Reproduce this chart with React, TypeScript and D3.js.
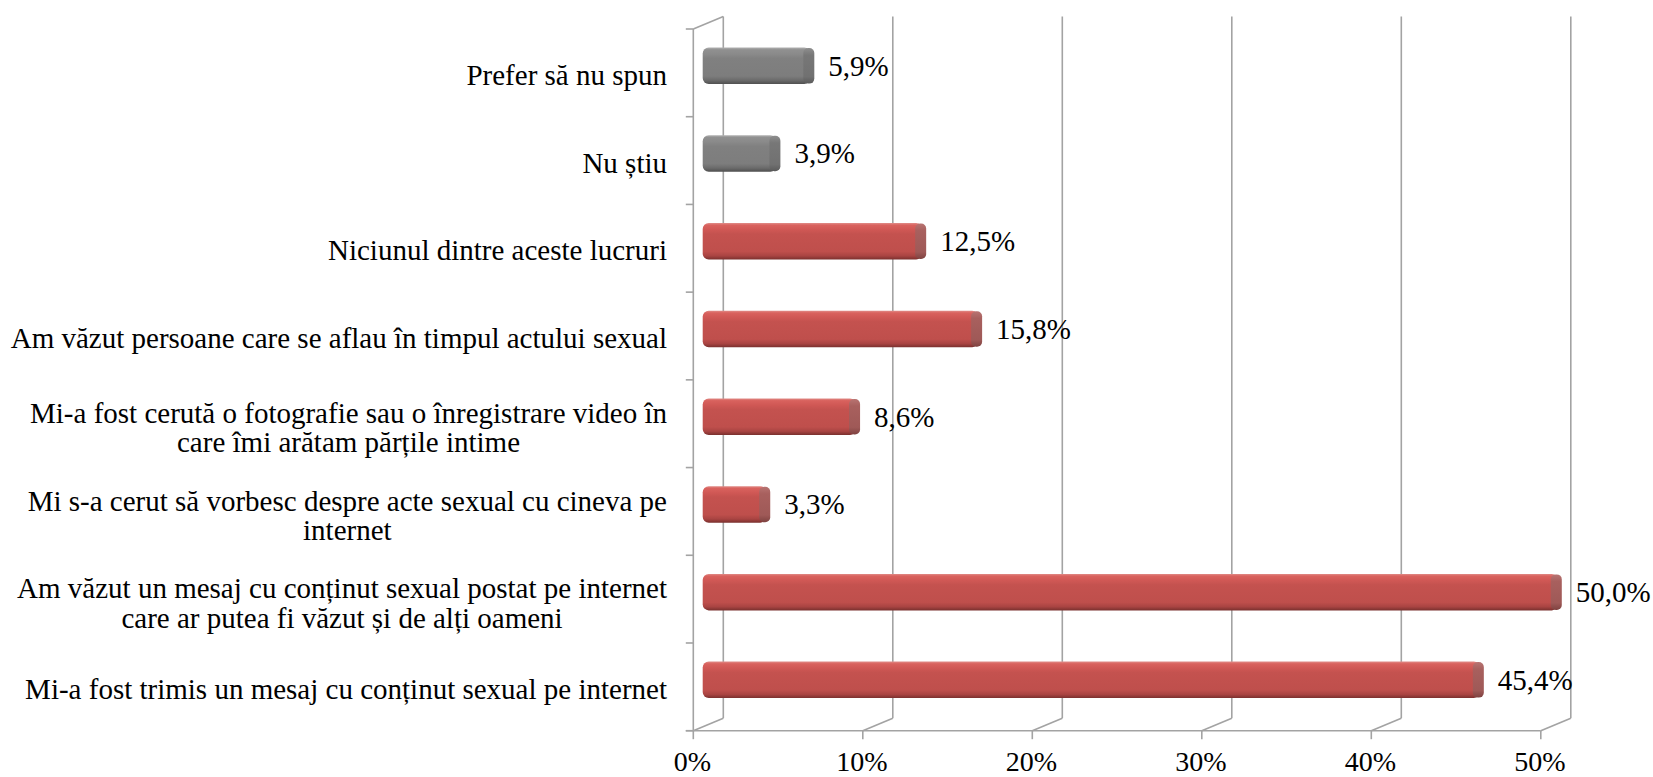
import React, { useEffect, useRef } from "react";
import * as d3 from "d3";

const categories: string[][] = [
  ["Prefer să nu spun"],
  ["Nu știu"],
  ["Niciunul dintre aceste lucruri"],
  ["Am văzut persoane care se aflau în timpul actului sexual"],
  ["Mi-a fost cerută o fotografie sau o înregistrare video în", "care îmi arătam părțile intime"],
  ["Mi s-a cerut să vorbesc despre acte sexual cu cineva pe", "internet"],
  ["Am văzut un mesaj cu conținut sexual postat pe internet", "care ar putea fi văzut și de alți oameni"],
  ["Mi-a fost trimis un mesaj cu conținut sexual pe internet"],
];
const values: number[] = [5.9, 3.9, 12.5, 15.8, 8.6, 3.3, 50.0, 45.4];
const barKind: string[] = ["gray", "gray", "red", "red", "red", "red", "red", "red"];
const xTicks: number[] = [0, 10, 20, 30, 40, 50];

const W = 1653;
const H = 777;
const FONT = "'Liberation Serif', 'Times New Roman', serif";

export default function App() {
  const ref = useRef<SVGSVGElement | null>(null);

  useEffect(() => {
    const svg = d3.select(ref.current);
    svg.selectAll("*").remove();

    const locale = d3.formatLocale({ decimal: ",", thousands: ".", grouping: [3], currency: ["", ""] });
    const fmt = (v: number) => locale.format(".1f")(v) + "%";

    const x0 = 693.3, x1 = 1540.8;
    const yTop = 29, yBot = 730.7;
    const dx = 30, dy = -12.5;
    const x = d3.scaleLinear().domain([0, 50]).range([x0, x1]);
    const y = d3.scaleBand<number>().domain(d3.range(categories.length)).range([yTop, yBot]).padding(0);
    const grid = "#a3a3a3";

    const defs = svg.append("defs");
    const mkGrad = (id: string, stops: [number, string][]) => {
      const g = defs.append("linearGradient").attr("id", id).attr("x1", 0).attr("y1", 0).attr("x2", 0).attr("y2", 1);
      stops.forEach(([o, c]) => g.append("stop").attr("offset", o).attr("stop-color", c));
    };
    mkGrad("redBody", [[0, "#e08c88"], [0.06, "#d9625e"], [0.18, "#d05855"], [0.3, "#c4524f"], [0.78, "#bf4f4c"], [0.9, "#a94442"], [1, "#7a302e"]]);
    mkGrad("redCap", [[0, "#b87472"], [0.2, "#a8605e"], [0.8, "#9f5957"], [1, "#7e4240"]]);
    mkGrad("grayBody", [[0, "#b0b0b0"], [0.06, "#909090"], [0.18, "#8a8a8a"], [0.3, "#808080"], [0.78, "#7d7d7d"], [0.9, "#6a6a6a"], [1, "#4f4f4f"]]);
    mkGrad("grayCap", [[0, "#8e8e8e"], [0.2, "#777777"], [0.8, "#717171"], [1, "#5a5a5a"]]);

    // back wall gridlines
    const gl = svg.append("g").attr("stroke", grid).attr("stroke-width", 1.6).attr("fill", "none");
    xTicks.forEach((t) => {
      gl.append("line").attr("x1", x(t) + dx).attr("x2", x(t) + dx).attr("y1", yTop + dy).attr("y2", yBot + dy);
      gl.append("line").attr("x1", x(t)).attr("y1", yBot).attr("x2", x(t) + dx).attr("y2", yBot + dy);
      gl.append("line").attr("x1", x(t)).attr("x2", x(t)).attr("y1", yBot).attr("y2", yBot + 8.5);
    });
    // left wall top diagonal
    gl.append("line").attr("x1", x0).attr("y1", yTop).attr("x2", x0 + dx).attr("y2", yTop + dy);
    // front axis
    gl.append("line").attr("x1", x0).attr("x2", x0).attr("y1", yTop).attr("y2", yBot);
    gl.append("line").attr("x1", x0 - 7.5).attr("x2", x1).attr("y1", yBot).attr("y2", yBot);
    d3.range(categories.length + 1).forEach((i) => {
      const yy = yTop + (i * (yBot - yTop)) / categories.length;
      gl.append("line").attr("x1", x0 - 7.5).attr("x2", x0).attr("y1", yy).attr("y2", yy);
    });

    // bars
    const barH = 36.5;
    const bars = svg.append("g");
    values.forEach((v, i) => {
      const cy = (y(i) as number) + y.bandwidth() / 2 - 7;
      const left = x0 + 9.4;
      const right = x(v) + 21;
      const kind = barKind[i];
      const g = bars.append("g");
      g.append("rect").attr("x", left).attr("y", cy - barH / 2).attr("width", right - left - 4).attr("height", barH)
        .attr("rx", 6).attr("ry", 6).attr("fill", `url(#${kind}Body)`);
      g.append("rect").attr("x", right - 11).attr("y", cy - barH / 2 + 0.5).attr("width", 11).attr("height", barH - 1)
        .attr("rx", 5).attr("ry", 5).attr("fill", `url(#${kind}Cap)`);
      g.append("text").attr("x", x(v) + 35).attr("y", cy + 9.8).attr("font-family", FONT).attr("font-size", 29)
        .attr("fill", "#000").text(fmt(v));
    });

    // category labels
    const labRight = 667;
    const lineH = 29.5;
    const lab = svg.append("g").attr("font-family", FONT).attr("font-size", 29).attr("fill", "#000");
    categories.forEach((lines, i) => {
      const cy = (y(i) as number) + y.bandwidth() / 2 + 2 + (lines.length > 1 ? 2 : 0);
      const t = lab.append("text").attr("text-anchor", "middle");
      const spans = lines.map((l, k) =>
        t.append("tspan").attr("y", cy + 10 + (k - (lines.length - 1) / 2) * lineH).text(l)
      );
      const widths = spans.map((s) => (s.node() as SVGTextContentElement).getComputedTextLength());
      const maxW = Math.max(...widths);
      spans.forEach((s) => s.attr("x", labRight - maxW / 2));
    });

    // x tick labels
    const tl = svg.append("g").attr("font-family", FONT).attr("font-size", 28).attr("fill", "#000").attr("text-anchor", "middle");
    xTicks.forEach((t) => {
      tl.append("text").attr("x", x(t) - 1).attr("y", 771).text(`${t}%`);
    });
  }, []);

  return (
    <svg ref={ref} width={W} height={H} style={{ position: "absolute", left: 0, top: 0, background: "#fff" }} />
  );
}
